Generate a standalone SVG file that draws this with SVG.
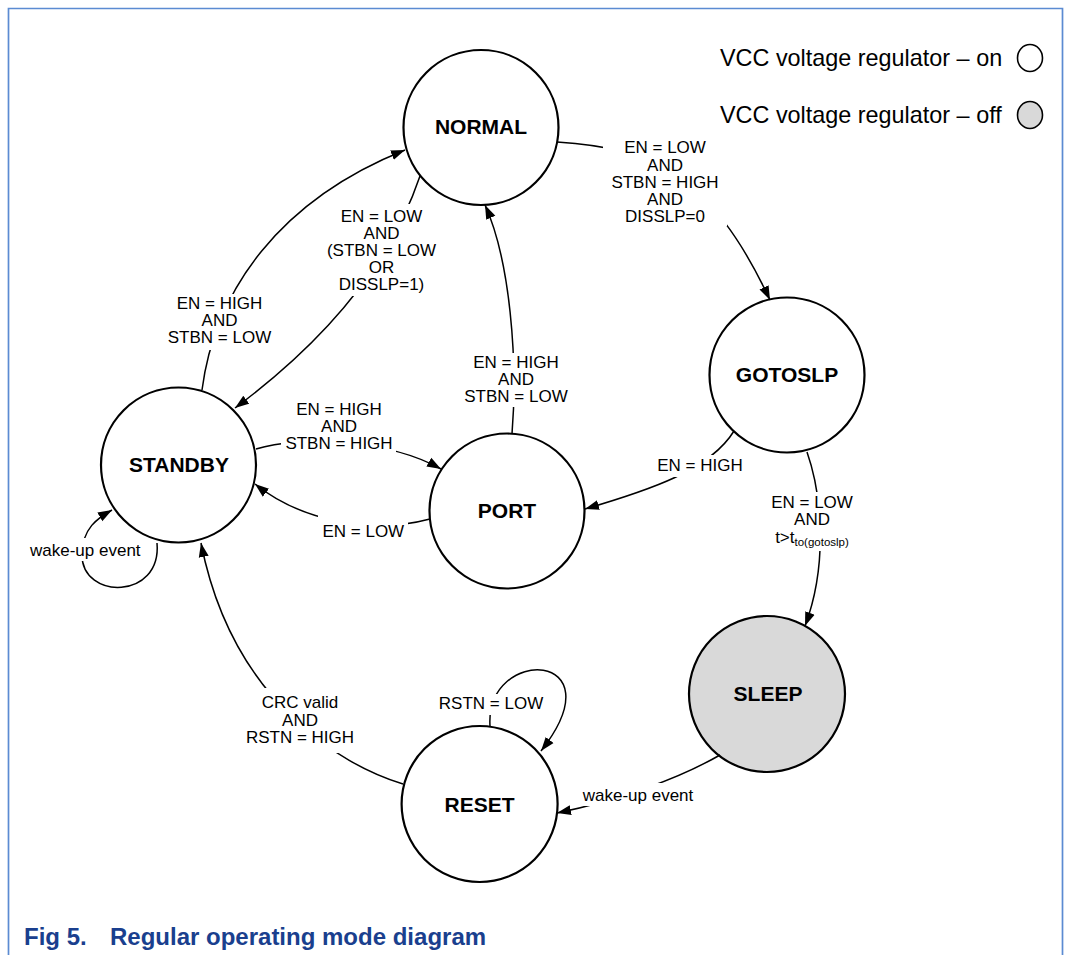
<svg xmlns="http://www.w3.org/2000/svg" width="1066" height="955" viewBox="0 0 1066 955">
  <style>
    .frame { fill: none; stroke: #5b8bd2; stroke-width: 1.7; }
    .state { fill: #fff; stroke: #000; stroke-width: 2.2; }
    .off { fill: #d9d9d9; }
    .name { font: bold 21px "Liberation Sans", Arial, sans-serif; text-anchor: middle; fill: #000; }
    .edge { fill: none; stroke: #000; stroke-width: 1.5; marker-end: url(#arrow); }
    .bg { fill: #fff; }
    .cond { font: 17px "Liberation Sans", Arial, sans-serif; text-anchor: middle; fill: #000; }
    .legend { font: 23.4px "Liberation Sans", Arial, sans-serif; fill: #000; }
    .key { stroke: #000; stroke-width: 1.6; }
    .caption { font: bold 24px "Liberation Sans", Arial, sans-serif; fill: #1a3f8e; }
  </style>
  <defs>
    <marker id="arrow" markerUnits="userSpaceOnUse" markerWidth="16" markerHeight="12" refX="14" refY="5.5" orient="auto">
      <path d="M0,0.5 L14,5.5 L0,10.5 z" fill="#000"/>
    </marker>
  </defs>

  <rect width="1066" height="955" fill="#fff"/>
  <path class="frame" d="M8.5,955 V8.5 H1062.5 V955"/>

  <!-- legend -->
  <g id="legend">
    <text class="legend" x="720" y="66">VCC voltage regulator – on</text>
    <ellipse class="key" cx="1030" cy="58" rx="12.5" ry="13.5" fill="#fff"/>
    <text class="legend" x="720" y="123">VCC voltage regulator – off</text>
    <ellipse class="key" cx="1030" cy="115" rx="12.5" ry="13.5" fill="#d9d9d9"/>
  </g>

  <!-- states -->
  <g id="normal">
    <circle class="state" cx="481" cy="127.5" r="77.5"/>
    <text class="name" x="481" y="133.5">NORMAL</text>
  </g>
  <g id="gotoslp">
    <circle class="state" cx="787" cy="375" r="77.5"/>
    <text class="name" x="787" y="382">GOTOSLP</text>
  </g>
  <g id="standby">
    <circle class="state" cx="178.5" cy="465" r="77.5"/>
    <text class="name" x="179" y="472">STANDBY</text>
  </g>
  <g id="port">
    <circle class="state" cx="507" cy="511" r="77.5"/>
    <text class="name" x="507" y="518">PORT</text>
  </g>
  <g id="sleep">
    <circle class="state off" cx="767" cy="694" r="78"/>
    <text class="name" x="768" y="700.5">SLEEP</text>
  </g>
  <g id="reset">
    <circle class="state" cx="479.6" cy="804" r="78"/>
    <text class="name" x="479.5" y="811.5">RESET</text>
  </g>

  <!-- transitions -->
  <g id="connectors">
    <!-- NORMAL -> GOTOSLP -->
    <path class="edge" d="M557,142 C650,148 710,172 770,300"/>
    <rect class="bg" x="603" y="138" width="124" height="88"/>
    <text class="cond" x="665" y="153.3">EN = LOW</text>
    <text class="cond" x="665" y="170.5">AND</text>
    <text class="cond" x="665" y="187.7">STBN = HIGH</text>
    <text class="cond" x="665" y="204.9">AND</text>
    <text class="cond" x="665" y="222.1">DISSLP=0</text>

    <!-- NORMAL -> STANDBY -->
    <path class="edge" d="M420,176 C395,250 340,330 235,408"/>
    <rect class="bg" x="325" y="204" width="115" height="92"/>
    <text class="cond" x="381.5" y="221.7">EN = LOW</text>
    <text class="cond" x="381.5" y="238.8">AND</text>
    <text class="cond" x="381.5" y="255.9">(STBN = LOW</text>
    <text class="cond" x="381.5" y="273">OR</text>
    <text class="cond" x="381.5" y="290.1">DISSLP=1)</text>

    <!-- STANDBY -> NORMAL -->
    <path class="edge" d="M202,390 C215,290 280,200 405,150"/>
    <rect class="bg" x="165" y="294" width="109" height="56"/>
    <text class="cond" x="219.5" y="309">EN = HIGH</text>
    <text class="cond" x="219.5" y="326.2">AND</text>
    <text class="cond" x="219.5" y="343.4">STBN = LOW</text>

    <!-- PORT -> NORMAL -->
    <path class="edge" d="M512,434 C518,360 510,260 485,205"/>
    <rect class="bg" x="460" y="353" width="112" height="54"/>
    <text class="cond" x="516" y="368">EN = HIGH</text>
    <text class="cond" x="516" y="385.2">AND</text>
    <text class="cond" x="516" y="402.4">STBN = LOW</text>

    <!-- STANDBY -> PORT -->
    <path class="edge" d="M256,449 C300,435 390,440 441,469"/>
    <rect class="bg" x="281" y="401" width="115" height="53"/>
    <text class="cond" x="339" y="415">EN = HIGH</text>
    <text class="cond" x="339" y="432.2">AND</text>
    <text class="cond" x="339" y="449.4">STBN = HIGH</text>

    <!-- PORT -> STANDBY -->
    <path class="edge" d="M430,519 C370,535 300,520 255,484"/>
    <rect class="bg" x="318" y="514" width="90" height="27"/>
    <text class="cond" x="363.3" y="536.7">EN = LOW</text>

    <!-- GOTOSLP -> PORT -->
    <path class="edge" d="M734,431 C710,470 650,490 585,509"/>
    <rect class="bg" x="653" y="455" width="94" height="22"/>
    <text class="cond" x="700" y="471">EN = HIGH</text>

    <!-- GOTOSLP -> SLEEP -->
    <path class="edge" d="M807,452 C822,495 828,565 805,626"/>
    <rect class="bg" x="767" y="492" width="90" height="59"/>
    <text class="cond" x="812" y="507.7">EN = LOW</text>
    <text class="cond" x="812" y="525">AND</text>
    <text class="cond" x="812" y="543.3">t&gt;t<tspan font-size="11.5" dy="2.7">to(gotoslp)</tspan></text>

    <!-- SLEEP -> RESET -->
    <path class="edge" d="M720,755 C680,778 620,800 557,813"/>
    <rect class="bg" x="578" y="783" width="119" height="23"/>
    <text class="cond" x="638" y="800.7">wake-up event</text>

    <!-- RESET -> STANDBY -->
    <path class="edge" d="M403,784 C340,765 232,700 201,543"/>
    <rect class="bg" x="241" y="688" width="118" height="65"/>
    <text class="cond" x="300" y="708.3">CRC valid</text>
    <text class="cond" x="300" y="725.7">AND</text>
    <text class="cond" x="300" y="743.1">RSTN = HIGH</text>

    <!-- RESET self-loop -->
    <path class="edge" d="M490,726 C485,645 620,650 541,751"/>
    <rect class="bg" x="436" y="694" width="110" height="21"/>
    <text class="cond" x="491" y="709.3">RSTN = LOW</text>

    <!-- STANDBY self-loop -->
    <path class="edge" d="M157,543 C162,600 82,600 82,555 C82,528 98,518 112,510"/>
    <rect class="bg" x="27" y="538" width="117" height="23"/>
    <text class="cond" x="85.3" y="556">wake-up event</text>
  </g>

  <!-- caption -->
  <text class="caption" x="24" y="945">Fig 5.</text>
  <text class="caption" x="110" y="945">Regular operating mode diagram</text>
</svg>
